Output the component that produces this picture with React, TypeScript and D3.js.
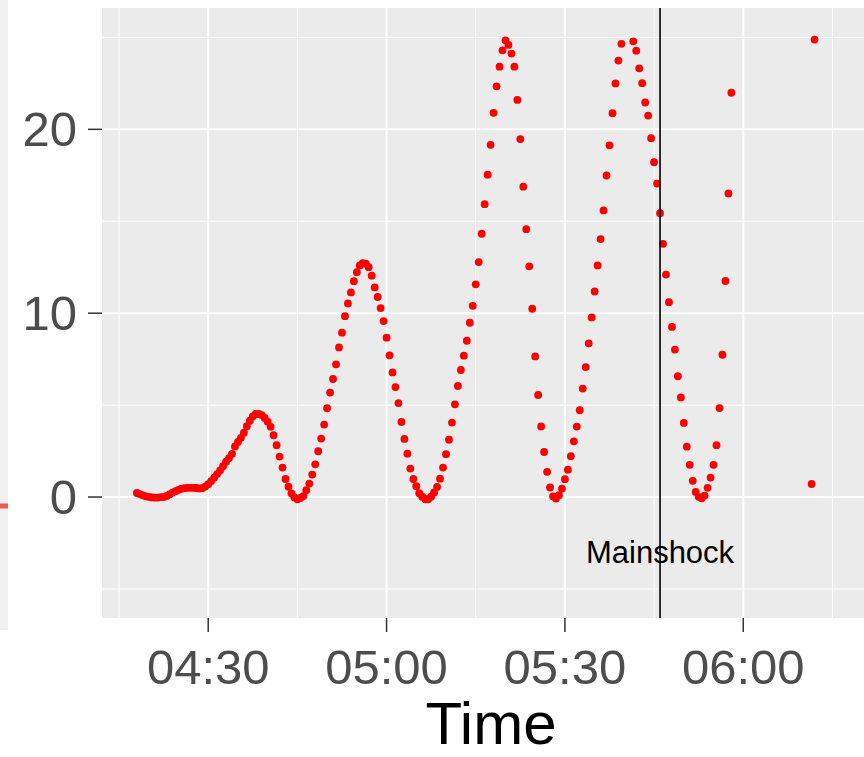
import React from "react";
import * as d3 from "d3";

// sampled water level (30 s step), null = outside the plotted limits
const sampleStart = "2011-03-11T04:18:00Z";
const sampleStepSec = 30;
const waterLevel: (number | null)[] = [
  0.22, 0.16, 0.09, 0.04, 0.01, -0.02, -0.03, -0.03, -0.01, 0.0,
  0.06, 0.14, 0.24, 0.32, 0.39, 0.45, 0.48, 0.5, 0.5, 0.5,
  0.49, 0.47, 0.48, 0.57, 0.7, 0.87, 1.05, 1.25, 1.45, 1.68,
  1.92, 2.12, 2.35, 2.75, 3.0, 3.22, 3.5, 3.85, 4.15, 4.38,
  4.52, 4.52, 4.46, 4.3, 4.1, 3.82, 3.36, 2.82, 2.2, 1.6,
  0.98, 0.56, 0.2, -0.02, -0.12, -0.05, 0.05, 0.37, 0.73, 1.22,
  1.78, 2.49, 3.18, 3.94, 4.83, 5.68, 6.42, 7.22, 8.14, 8.94,
  9.84, 10.53, 11.13, 11.74, 12.23, 12.6, 12.72, 12.69, 12.5, 12.04,
  11.4, 10.88, 10.28, 9.57, 8.67, 7.71, 6.78, 5.98, 5.11, 4.08,
  3.16, 2.36, 1.55, 0.98, 0.59, 0.21, 0.02, -0.12, -0.12, 0.02,
  0.25, 0.55, 1.0, 1.6, 2.33, 3.12, 4.05, 5.04, 6.04, 6.91,
  7.69, 8.5, 9.48, 10.4, 11.57, 12.78, 14.32, 15.93, 17.53, 19.16,
  20.9, 22.34, 23.41, 24.3, 24.84, 24.59, 24.12, 23.41, 21.6, 19.47,
  16.88, 14.57, 12.55, 10.24, 7.65, 5.55, 3.84, 2.45, 1.37, 0.52,
  0.04, -0.08, 0.1, 0.46, 0.97, 1.49, 2.22, 3.03, 3.83, 4.72,
  5.9, 7.07, 8.36, 9.77, 11.18, 12.6, 14.03, 15.59, 17.49, 19.13,
  20.88, 22.5, 23.74, 24.65, null, null, null, 24.79, 24.28, 23.32,
  22.51, 21.46, 20.75, 19.52, 18.21, 17.05, 15.44, 13.77, 12.1, 10.6,
  9.25, 8.02, 6.57, 5.42, 4.03, 2.74, 1.75, 0.88, 0.28, 0.01,
  -0.07, 0.08, 0.5, 1.06, 1.75, 2.82, 4.84, 7.74, 11.75, 16.51,
  21.99, null, null, null, null, null, null, null, null, null,
  null, null, null, null, null, null, null, null, null, null,
  null, null, null, null, null, null, null, 0.71, 24.88,
];

const xMajorTicks = ["04:30", "05:00", "05:30", "06:00"];
const xMinorTicks = ["04:15", "04:45", "05:15", "05:45", "06:15"];
const yMajorTicks = [0, 10, 20];
const yMinorTicks = [-5, 5, 15, 25];
const mainshockTime = "05:46";
const mainshockLabel = "Mainshock";
const mainshockLabelY = -3.0;

const day = "2011-03-11T";
const toDate = (hm: string) => new Date(`${day}${hm}${hm.length === 5 ? ":00" : ""}Z`);

const width = 864;
const height = 757;
const panel = { left: 102, top: 8, right: 880, bottom: 618 };
const font = "'Liberation Sans', Arial, Helvetica, sans-serif";

export default function App() {
  const x = d3
    .scaleUtc()
    .domain([toDate("04:12:08"), toDate("06:23:00")])
    .range([panel.left, panel.right]);
  const y = d3.scaleLinear().domain([-6.58, 26.6]).range([panel.bottom, panel.top]);

  const t0 = new Date(sampleStart).getTime();
  const points = waterLevel
    .map((v, i) => ({ t: new Date(t0 + i * sampleStepSec * 1000), v }))
    .filter((d) => d.v !== null) as { t: Date; v: number }[];

  const pw = panel.right - panel.left;
  const ph = panel.bottom - panel.top;
  const xm = x(toDate(mainshockTime));

  return (
    <div style={{ position: "absolute", left: 0, top: 0 }}>
      <svg width={width} height={height} style={{ display: "block", background: "#fff" }}>
        {/* left edge remnant */}
        <rect x={0} y={0} width={8} height={630} fill="#f0f0f0" />
        <line x1={0} x2={8} y1={506} y2={506} stroke="#f03030" strokeWidth={5} opacity={0.8} />

        <rect x={panel.left} y={panel.top} width={pw} height={ph} fill="#EBEBEB" />
        <g stroke="#fff">
          {yMinorTicks.map((d) => (
            <line key={"ym" + d} x1={panel.left} x2={panel.right} y1={y(d)} y2={y(d)} strokeWidth={1} />
          ))}
          {xMinorTicks.map((d) => (
            <line key={"xm" + d} y1={panel.top} y2={panel.bottom} x1={x(toDate(d))} x2={x(toDate(d))} strokeWidth={1} />
          ))}
          {yMajorTicks.map((d) => (
            <line key={"yM" + d} x1={panel.left} x2={panel.right} y1={y(d)} y2={y(d)} strokeWidth={2} />
          ))}
          {xMajorTicks.map((d) => (
            <line key={"xM" + d} y1={panel.top} y2={panel.bottom} x1={x(toDate(d))} x2={x(toDate(d))} strokeWidth={2} />
          ))}
        </g>

        {points.map((d, i) => (
          <circle key={i} cx={x(d.t)} cy={y(d.v)} r={3.9} fill="#FF0000" />
        ))}

        <line x1={xm} x2={xm} y1={panel.top} y2={panel.bottom} stroke="#000" strokeWidth={1.6} />
        <text x={xm} y={y(mainshockLabelY) + 11} textAnchor="middle" fontFamily={font} fontSize={31} fill="#000">
          {mainshockLabel}
        </text>

        {/* y axis */}
        <g>
          {yMajorTicks.map((d) => (
            <g key={"yt" + d}>
              <line x1={panel.left - 14} x2={panel.left} y1={y(d)} y2={y(d)} stroke="#333" strokeWidth={1.5} />
              <text x={panel.left - 25} y={y(d) + 17} textAnchor="end" fontFamily={font} fontSize={49} fill="#4D4D4D">
                {d}
              </text>
            </g>
          ))}
        </g>

        {/* x axis */}
        <g>
          {xMajorTicks.map((d) => (
            <g key={"xt" + d}>
              <line x1={x(toDate(d))} x2={x(toDate(d))} y1={panel.bottom} y2={panel.bottom + 14} stroke="#333" strokeWidth={1.5} />
              <text x={x(toDate(d))} y={684} textAnchor="middle" fontFamily={font} fontSize={49} fill="#4D4D4D">
                {d}
              </text>
            </g>
          ))}
        </g>
        <text x={(panel.left + panel.right) / 2} y={744} textAnchor="middle" fontFamily={font} fontSize={60} fill="#000">
          Time
        </text>
      </svg>
    </div>
  );
}
